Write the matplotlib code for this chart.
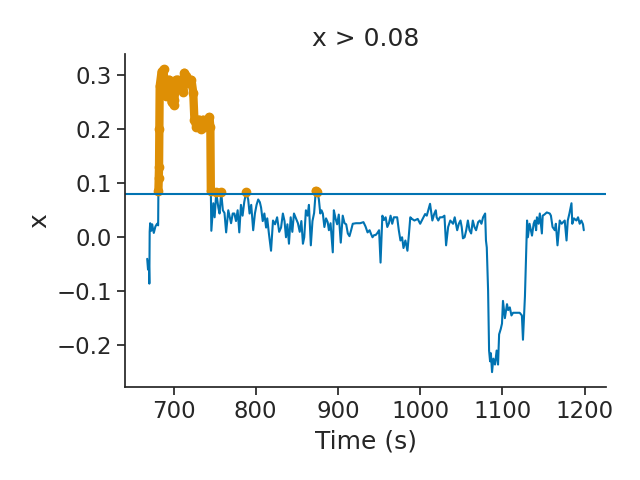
import numpy as np
import matplotlib
matplotlib.use("Agg")
import matplotlib.pyplot as plt
import seaborn as sns

threshold = 0.08

time_s = [
    668.0, 669.0, 670.0, 670.6, 671.0, 671.6, 673.0, 674.0, 676.0, 678.0, 680.0, 681.3,
    681.6, 682.0, 682.4, 682.8, 683.2, 685.5, 688.0, 689.0, 690.3, 691.5, 694.0, 695.0,
    697.6, 700.0, 701.0, 703.6, 706.0, 707.0, 709.7, 712.0, 713.3, 715.7, 718.0, 721.8,
    724.0, 725.4, 727.8, 731.5, 734.0, 736.0, 737.5, 742.4, 743.6, 744.8, 745.4, 746.0,
    748.4, 750.0, 752.0, 754.5, 756.0, 758.0, 760.0, 762.0, 764.0, 766.6, 770.0, 772.0,
    774.0, 776.0, 778.0, 780.0, 782.0, 784.0, 786.0, 788.4, 790.8, 792.5, 794.5, 796.9,
    799.0, 801.0, 803.0, 805.0, 806.5, 808.5, 810.5, 812.6, 814.0, 816.0, 818.6, 821.0,
    823.5, 826.0, 828.5, 830.8, 833.0, 835.0, 836.8, 838.5, 840.4, 842.5, 844.5, 846.5,
    851.3, 853.5, 855.5, 857.4, 859.0, 861.0, 863.0, 864.7, 867.0, 869.0, 871.0, 873.0,
    875.0, 876.8, 878.5, 880.0, 881.6, 883.5, 885.5, 887.5, 889.0, 891.0, 893.7, 895.0,
    897.0, 899.0, 901.0, 903.4, 905.8, 908.0, 910.0, 912.0, 914.0, 916.0, 918.0, 922.0,
    927.0, 931.0, 933.5, 936.0, 938.5, 940.0, 942.0, 944.0, 945.8, 948.0, 950.0, 951.8,
    954.0, 956.0, 958.0, 960.0, 962.0, 964.0, 966.0, 968.0, 970.0, 972.0, 974.0, 976.0,
    978.0, 979.7, 982.0, 984.5, 986.0, 988.0, 990.0, 993.0, 997.0, 1000.0, 1004.0, 1006.0,
    1008.0, 1012.0, 1014.8, 1017.0, 1019.0, 1020.0, 1022.0, 1024.0, 1027.0, 1029.5, 1031.5, 1034.0,
    1036.6, 1040.0, 1042.0, 1045.0, 1047.0, 1049.0, 1050.5, 1052.0, 1054.0, 1056.0, 1058.0, 1060.0,
    1062.0, 1064.0, 1066.0, 1068.0, 1070.5, 1072.5, 1074.5, 1076.5, 1079.0, 1080.0, 1081.0, 1082.6,
    1083.8, 1085.0, 1086.0, 1087.4, 1089.0, 1091.0, 1093.0, 1094.7, 1096.0, 1098.0, 1099.5, 1100.7,
    1103.0, 1105.6, 1107.0, 1109.0, 1111.0, 1113.0, 1117.7, 1121.0, 1123.7, 1125.0, 1127.4, 1130.0,
    1131.0, 1133.0, 1136.0, 1138.0, 1139.5, 1141.0, 1142.0, 1144.0, 1145.5, 1148.0, 1149.0, 1151.0,
    1154.0, 1157.6, 1159.0, 1161.0, 1163.7, 1165.0, 1167.0, 1169.7, 1172.0, 1175.8, 1178.0, 1179.5,
    1181.5, 1184.0, 1185.0, 1187.0, 1190.0, 1192.0, 1194.0, 1196.0, 1198.0, 1199.0,
]

x_values = [
    -0.040, -0.060, -0.045, -0.086, 0.010, 0.026, 0.012, 0.024, 0.008, 0.020, 0.025, 0.022,
    0.085, 0.110, 0.130, 0.200, 0.280, 0.307, 0.311, 0.268, 0.262, 0.292, 0.268, 0.292,
    0.250, 0.246, 0.255, 0.292, 0.292, 0.280, 0.286, 0.270, 0.305, 0.298, 0.286, 0.292,
    0.268, 0.218, 0.205, 0.218, 0.200, 0.218, 0.205, 0.215, 0.223, 0.205, 0.085, 0.012,
    0.063, 0.037, 0.083, 0.055, 0.044, 0.083, 0.050, 0.045, 0.009, 0.050, 0.026, 0.044,
    0.044, 0.030, 0.050, 0.009, 0.060, 0.040, 0.065, 0.084, 0.070, 0.044, 0.060, 0.013,
    0.044, 0.060, 0.070, 0.065, 0.055, 0.030, 0.044, 0.018, 0.035, 0.007, -0.025, 0.031,
    0.024, 0.037, 0.010, 0.018, 0.044, 0.030, 0.000, 0.024, -0.012, 0.037, 0.010, 0.044,
    0.026, 0.010, 0.030, -0.012, 0.000, 0.050, 0.040, 0.060, -0.015, 0.030, 0.045, 0.086,
    0.084, 0.070, 0.044, 0.050, 0.044, 0.019, 0.035, 0.028, 0.013, 0.026, -0.028, 0.050,
    0.035, 0.024, 0.042, -0.010, 0.040, 0.026, 0.024, 0.007, 0.002, 0.013, 0.025, 0.026,
    0.026, 0.028, 0.020, 0.009, 0.013, 0.007, 0.000, 0.004, 0.004, 0.008, 0.013, -0.047,
    0.040, 0.032, 0.037, 0.019, 0.026, 0.040, 0.025, 0.037, 0.037, 0.037, 0.013, -0.006,
    0.000, -0.020, -0.006, -0.025, 0.000, 0.037, 0.034, 0.031, 0.034, 0.025, 0.037, 0.043,
    0.040, 0.062, 0.031, 0.043, 0.050, 0.037, 0.031, 0.037, 0.037, 0.040, -0.015, 0.019,
    0.031, 0.025, 0.037, 0.013, 0.025, 0.031, 0.019, -0.002, 0.000, 0.013, 0.031, 0.013,
    0.007, 0.031, 0.019, 0.013, 0.028, 0.031, 0.025, 0.037, 0.044, -0.006, -0.019, -0.099,
    -0.210, -0.230, -0.215, -0.250, -0.225, -0.236, -0.210, -0.236, -0.180, -0.170, -0.160, -0.118,
    -0.150, -0.124, -0.135, -0.130, -0.145, -0.140, -0.140, -0.140, -0.145, -0.190, -0.110, 0.031,
    0.000, 0.025, 0.003, 0.025, 0.031, 0.013, 0.037, 0.025, 0.044, 0.007, 0.040, 0.042,
    0.046, 0.044, 0.040, 0.019, 0.013, 0.025, -0.015, 0.031, 0.025, 0.031, -0.006, 0.031,
    0.044, 0.063, 0.025, 0.035, 0.031, 0.037, 0.025, 0.031, 0.024, 0.013,
]

sns.set_theme(style="ticks", palette="colorblind", font_scale=1.5)
blue, orange = sns.color_palette("colorblind")[:2]

t = np.array(time_s)
x = np.array(x_values)
above = np.where(x > threshold, x, np.nan)

fig, ax = plt.subplots(figsize=(6.4, 4.8))

# full series, then the part over the threshold on top
ax.plot(t, x, color=blue, lw=1.5)
ax.plot(t, above, color=orange, lw=6, marker="o", ms=6,
        solid_capstyle="round", solid_joinstyle="round")
ax.axhline(threshold, color=blue, lw=1.5)

ax.set_xlabel("Time (s)")
ax.set_ylabel("x")
ax.set_title(f"x > {threshold}")
sns.despine()

plt.tight_layout()
plt.savefig("out.png", dpi=100)
